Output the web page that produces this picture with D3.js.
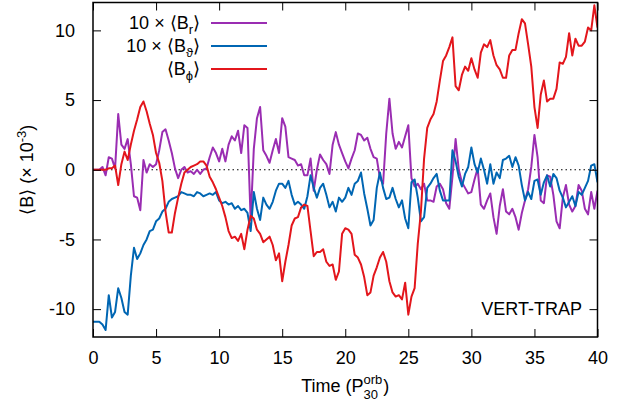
<!DOCTYPE html>
<html>
<head>
<meta charset="utf-8">
<script src="https://cdn.jsdelivr.net/npm/d3@7"></script>
<style>
  body { margin: 0; background: #fff; }
  svg { display: block; }
  text { font-family: "Liberation Sans", Arial, Helvetica, sans-serif; fill: #000; }
</style>
</head>
<body>
<svg id="chart" width="622" height="404"></svg>
<script>
(function(){
    'use strict';

    // sampling grid, in orbits at 30 (0 .. 40, step 0.25)
    var timeStep = 0.25;
    var xTicks = [0, 5, 10, 15, 20, 25, 30, 35, 40];
    var yTicks = [-10, -5, 0, 5, 10];
    var label = 'VERT-TRAP';

    // 10 x <B_r>
    var bR = [0, 0, 0, 0.2, -0.4, 0.9, 0.8, 0.1, 4.0, 1.8, 1.5, 2.2, 0.4, -1.9, -2.0, -2.9,
        0.7, -0.2, 0.4, 0.2, 0.4, 1.4, 2.7, 2.9, 2.1, 1.2, 0.1, -0.6, 0.0, 0.2, -0.2, -0.1,
        -0.3, 0.0, -0.3, 0.0, 0.1, 0.9, 1.6, 1.2, 0.6, 1.5, 0.6, 1.8, 2.4, 2.1, 2.8, 1.2,
        3.2, 3.0, -3.6, 1.5, 3.7, 4.5, 1.4, 1.0, 0.5, 1.4, 2.2, 1.2, 3.7, 3.1, 0.9, 0.8,
        0.7, 0.3, 0.4, -0.4, -0.4, 0.8, -1.5, 0.0, 1.1, 0.7, 0.4, -0.3, 1.8, 2.7, 1.8, 1.2,
        0.6, 0.1, 0.8, 1.4, 2.6, 2.5, 2.1, 2.3, 1.5, 0.9, 0.8, -0.6, -1.0, 2.6, 5.1, 2.6,
        1.5, 2.0, 1.6, 2.4, 3.2, -0.6, -1.2, -1.0, -1.4, -1.0, -2.2, -2.2, -2.3, -1.2, -1.0, -1.4,
        -2.4, -2.8, -0.5, 2.2, 0.0, -0.9, -1.3, -1.7, -1.6, -0.7, 0.1, -2.5, -2.8, -2.2, -1.7, -3.4,
        -4.6, -2.6, -1.4, -3.0, -3.2, -2.8, -3.4, -4.3, -3.1, -2.2, -1.4, 0.2, 2.5, 0.9, -2.2, -2.4,
        -0.4, -0.5, -1.8, -3.7, -4.2, -2.0, -1.1, -2.5, -3.0, -2.6, -1.1, -1.5, -2.8, -3.2, -1.6, -2.8,
        -1.5];

    // 10 x <B_theta>
    var bTheta = [-10.9, -10.9, -10.9, -11.1, -11.5, -9.0, -10.6, -10.2, -8.5, -9.2, -10.2, -10.4, -7.6, -5.6, -6.4, -6.0,
        -5.4, -5.0, -4.4, -4.3, -3.7, -3.5, -3.0, -2.8, -2.3, -2.1, -2.0, -1.9, -1.6, -1.7, -1.8, -1.8,
        -1.9, -1.6, -1.7, -1.9, -1.8, -1.7, -1.8, -1.6, -2.2, -2.4, -2.3, -2.5, -2.4, -2.8, -2.6, -2.9,
        -2.8, -3.1, -4.4, -1.6, -2.8, -3.6, -2.0, -2.5, -2.8, -2.3, -1.5, -1.0, -1.0, -1.3, -0.8, -1.8,
        -2.5, -2.3, -2.5, -2.8, -1.9, -0.4, -1.3, -2.0, -1.3, -1.0, -1.8, -2.7, -2.3, -3.0, -2.0, -2.3,
        -2.0, -1.3, -1.8, -1.0, -0.8, -0.2, -1.7, -2.8, -4.0, -3.6, -1.3, -0.2, -1.3, -2.1, -2.0, -1.3,
        -2.1, -2.7, -2.2, -3.5, -4.2, -0.9, -0.7, -2.0, -3.7, -3.4, -1.3, -1.0, -0.6, -0.3, -1.5, -2.2,
        -2.2, -2.2, 1.4, 0.6, -0.5, -1.2, -0.3, 0.2, 1.6, 0.4, -0.2, 0.8, 0.0, -1.0, 0.4, -1.0,
        -0.2, -0.6, 0.7, 0.8, 1.0, 0.2, 0.9, 0.3, -1.1, -2.2, -1.6, -2.1, -0.8, -0.7, -1.8, -0.9,
        -0.4, -1.2, -0.3, -0.6, -1.5, -2.0, -2.7, -2.3, -1.9, -2.6, -1.6, -1.8, -1.3, -0.8, 0.3, 0.4,
        -0.9];

    // <B_phi>
    var bPhi = [0, 0, 0, 0, 0, 0.1, 0.1, 0.3, -1.1, 0.4, 1.3, 0.7, 1.8, 2.8, 3.6, 4.5,
        4.9, 4.2, 3.3, 2.5, 1.2, 0.5, -0.8, -3.0, -4.5, -4.5, -3.1, -2.0, -1.0, -0.2, 0.0, 0.2,
        0.3, 0.4, 0.6, 0.6, 0.3, -0.5, -0.9, -1.4, -2.0, -2.6, -3.4, -4.4, -4.9, -4.8, -5.1, -4.6,
        -5.7, -4.3, -3.3, -3.5, -4.3, -4.6, -5.2, -5.0, -4.8, -5.4, -6.5, -6.0, -8.0, -6.6, -5.4, -4.0,
        -3.5, -3.4, -2.7, -2.5, -2.6, -4.4, -6.2, -5.9, -5.9, -5.7, -6.6, -6.9, -6.8, -7.9, -7.3, -4.6,
        -4.2, -4.3, -4.6, -6.1, -6.3, -6.8, -7.7, -9.0, -8.8, -7.6, -7.0, -6.3, -5.9, -6.6, -8.0, -8.8,
        -9.1, -9.0, -9.3, -8.1, -10.4, -9.1, -8.5, -5.3, -3.0, 0.8, 3.0, 3.6, 4.0, 4.9, 6.4, 7.8,
        8.2, 8.8, 9.5, 6.0, 5.7, 6.8, 7.4, 7.1, 8.0, 7.2, 6.6, 8.4, 9.0, 8.8, 9.3, 8.2,
        7.5, 7.2, 6.6, 6.6, 8.2, 8.6, 8.6, 9.8, 10.8, 10.5, 9.0, 7.4, 4.5, 3.0, 5.4, 6.4,
        4.9, 5.1, 5.1, 5.8, 7.7, 7.6, 8.1, 9.8, 8.2, 9.4, 8.9, 8.9, 9.2, 10.2, 10.0, 11.8,
        10.2];

    var time = d3.range(bPhi.length).map(function (i) { return i * timeStep; });

    var series = [
        {name: 'r', values: bR, color: '#9a2db2', factor: true},
        {name: 'ϑ', values: bTheta, color: '#0066b3', factor: true},
        {name: 'ϕ', values: bPhi, color: '#e3161c', factor: false}
    ];

    var margin = {top: 2.5, left: 93, right: 24.5, bottom: 67};
    var width = 622, height = 404;
    var innerW = width - margin.left - margin.right;
    var innerH = height - margin.top - margin.bottom;

    var svg = d3.select('#chart');
    var x = d3.scaleLinear().domain([0, 40]).range([margin.left, margin.left + innerW]);
    var y = d3.scaleLinear().domain([-12, 12]).range([margin.top + innerH, margin.top]);

    svg.append('clipPath').attr('id', 'plot-clip')
        .append('rect')
        .attr('x', margin.left).attr('y', margin.top)
        .attr('width', innerW).attr('height', innerH);

    // zero line
    svg.append('line')
        .attr('x1', x(0)).attr('x2', x(40))
        .attr('y1', y(0)).attr('y2', y(0))
        .attr('stroke', '#000').attr('stroke-width', 1)
        .attr('stroke-dasharray', '1.5,3');

    var line = d3.line()
        .x(function (d, i) { return x(time[i]); })
        .y(function (d) { return y(d); });

    svg.append('g').attr('clip-path', 'url(#plot-clip)')
        .selectAll('path').data(series).enter().append('path')
        .attr('d', function (d) { return line(d.values); })
        .attr('fill', 'none')
        .attr('stroke', function (d) { return d.color; })
        .attr('stroke-width', 2)
        .attr('stroke-linejoin', 'round');

    // axes (ticks inside, on all four sides)
    var tickLen = 8;
    svg.append('g').attr('transform', 'translate(0,' + y(-12) + ')')
        .call(d3.axisBottom(x).tickValues(xTicks).tickSizeInner(-tickLen).tickSizeOuter(0).tickPadding(14))
        .call(styleAxis);
    svg.append('g').attr('transform', 'translate(0,' + y(12) + ')')
        .call(d3.axisTop(x).tickValues(xTicks).tickSizeInner(-tickLen).tickSizeOuter(0).tickFormat(''))
        .call(styleAxis);
    svg.append('g').attr('transform', 'translate(' + x(0) + ',0)')
        .call(d3.axisLeft(y).tickValues(yTicks).tickSizeInner(-tickLen).tickSizeOuter(0).tickPadding(18)
            .tickFormat(d3.format('d')))
        .call(styleAxis);
    svg.append('g').attr('transform', 'translate(' + x(40) + ',0)')
        .call(d3.axisRight(y).tickValues(yTicks).tickSizeInner(-tickLen).tickSizeOuter(0).tickFormat(''))
        .call(styleAxis);

    function styleAxis(g) {
        g.select('.domain').remove();
        g.selectAll('.tick line').attr('stroke', '#000').attr('stroke-width', 1);
        g.selectAll('.tick text').style('font-size', '18px')
            .style('font-family', '"Liberation Sans", Arial, sans-serif')
            .text(function () { return this.textContent.replace('−', '-'); });
    }

    svg.append('rect')
        .attr('x', margin.left).attr('y', margin.top)
        .attr('width', innerW).attr('height', innerH)
        .attr('fill', 'none').attr('stroke', '#000').attr('stroke-width', 1.5);

    // legend
    var legend = svg.append('g');
    series.forEach(function (s, i) {
        var ly = 23 + i * 23;
        var t = legend.append('text')
            .attr('x', 200).attr('y', ly + 6)
            .attr('text-anchor', 'end')
            .style('font-size', '18px');
        t.append('tspan').text((s.factor ? '10 × ' : '') + '⟨B');
        t.append('tspan').attr('dy', 5).style('font-size', '13px').text(s.name);
        t.append('tspan').attr('dy', -5).text('⟩');
        legend.append('line')
            .attr('x1', 211).attr('x2', 267)
            .attr('y1', ly).attr('y2', ly)
            .attr('stroke', s.color).attr('stroke-width', 2);
    });

    svg.append('text')
        .attr('x', 582).attr('y', 315)
        .attr('text-anchor', 'end')
        .style('font-size', '18px')
        .text(label);

    // y title
    var yt = svg.append('text')
        .attr('transform', 'translate(33,' + y(0) + ') rotate(-90)')
        .attr('text-anchor', 'middle')
        .style('font-size', '18px');
    yt.append('tspan').text('⟨B⟩ (× 10');
    yt.append('tspan').attr('dy', -7).style('font-size', '13px').text('-3');
    yt.append('tspan').attr('dy', 7).text(')');

    // x title with stacked sub/superscript
    var xt = svg.append('g');
    var part1 = xt.append('text').attr('y', 392).style('font-size', '18px').text('Time (P');
    var w1 = part1.node().getComputedTextLength();
    var sup = xt.append('text').attr('x', w1).attr('y', 384).style('font-size', '13px').text('orb');
    var sub = xt.append('text').attr('x', w1).attr('y', 399).style('font-size', '13px').text('30');
    var w2 = w1 + Math.max(sup.node().getComputedTextLength(), sub.node().getComputedTextLength()) + 1;
    var part2 = xt.append('text').attr('x', w2).attr('y', 392).style('font-size', '18px').text(')');
    var total = w2 + part2.node().getComputedTextLength();
    xt.attr('transform', 'translate(' + ((x(0) + x(40)) / 2 - total / 2) + ',0)');
})();
</script>
</body>
</html>
